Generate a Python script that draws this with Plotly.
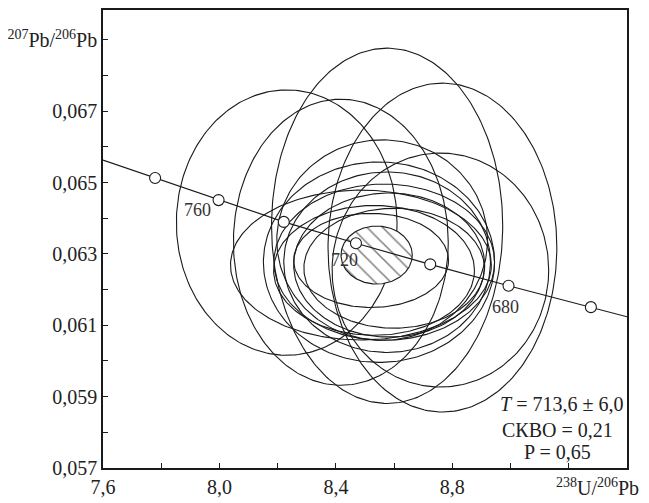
import numpy as np
import plotly.graph_objects as go

# --- data ---
# concordia marker ages (Ma) and their coordinates
conc_age = [780, 760, 740, 720, 700, 680, 660]
conc_x = [7.779, 7.997, 8.221, 8.469, 8.724, 8.993, 9.276]
conc_y = [0.06513, 0.06451, 0.06390, 0.06330, 0.06271, 0.06211, 0.06151]
# concordia curve trace (ends at the frame)
curve_x = [7.6, 7.779, 7.997, 8.221, 8.469, 8.724, 8.993, 9.276, 9.4]
curve_y = [0.06563, 0.06513, 0.06451, 0.06390, 0.06330, 0.06271, 0.06211, 0.06151, 0.06124]
# labelled ages
label_age = ["760", "720", "680"]
label_x = [7.924, 8.431, 8.983]
label_y = [0.06423, 0.06284, 0.06152]

# error ellipses: centres and semi-axes
ell_cx = [8.576, 8.231, 8.417, 8.766, 8.759, 8.486, 8.566, 8.583, 8.600, 8.576, 8.548, 8.559, 8.531, 8.521]
ell_cy = [0.06379, 0.06388, 0.06333, 0.06318, 0.06255, 0.06269, 0.06277, 0.06269, 0.06260, 0.06277, 0.06277, 0.06339, 0.06254, 0.06282]
ell_ax = [0.397, 0.379, 0.369, 0.393, 0.372, 0.448, 0.379, 0.328, 0.310, 0.355, 0.397, 0.362, 0.345, 0.266]
ell_ay = [0.00498, 0.00372, 0.00401, 0.00461, 0.00328, 0.00210, 0.00219, 0.00202, 0.00168, 0.00253, 0.00281, 0.00281, 0.00182, 0.00132]

# concordia age ellipse (hatched)
age_cx, age_cy, age_ax, age_ay = 8.540, 0.06297, 0.1224, 0.000813

# axis ticks
x_tickvals = [7.6, 8.0, 8.4, 8.8]
x_ticktext = ["7,6", "8,0", "8,4", "8,8"]
x_minorvals = [7.8, 8.2, 8.6, 9.0, 9.2]
y_tickvals = [0.057, 0.059, 0.061, 0.063, 0.065, 0.067, 0.069]
y_ticktext = ["0,057", "0,059", "0,061", "0,063", "0,065", "0,067",
              "<sup>207</sup>Pb/<sup>206</sup>Pb"]
y_minorvals = [0.058, 0.060, 0.062, 0.064, 0.066, 0.068]

stats_lines = ["<i>T</i> = 713,6 ± 6,0", "СКВО = 0,21", "P = 0,65"]

FONT = "Liberation Serif, Times New Roman, serif"
INK = "#1a1a1a"

fig = go.Figure()
theta = np.linspace(0, 2 * np.pi, 241)

for cx, cy, ax, ay in zip(ell_cx, ell_cy, ell_ax, ell_ay):
    fig.add_trace(go.Scatter(
        x=cx + ax * np.cos(theta), y=cy + ay * np.sin(theta),
        mode="lines", line=dict(color=INK, width=1.1),
        hoverinfo="skip", showlegend=False))

fig.add_trace(go.Scatter(
    x=age_cx + age_ax * np.cos(theta), y=age_cy + age_ay * np.sin(theta),
    mode="lines", fill="toself", fillcolor="white",
    fillpattern=dict(shape="\\", fgcolor="#000", bgcolor="white", size=11, solidity=0.14),
    line=dict(color=INK, width=1.1), hoverinfo="skip", showlegend=False))

fig.add_trace(go.Scatter(
    x=curve_x, y=curve_y, mode="lines",
    line=dict(color=INK, width=1.2), hoverinfo="skip", showlegend=False))

fig.add_trace(go.Scatter(
    x=conc_x, y=conc_y, mode="markers", text=[str(a) for a in conc_age],
    marker=dict(size=11, color="white", line=dict(color=INK, width=1.1)),
    hoverinfo="text", showlegend=False))

for t, x, y in zip(label_age, label_x, label_y):
    fig.add_annotation(x=x, y=y, text=t, showarrow=False, xref="x", yref="y",
                       font=dict(family=FONT, size=18, color="#333"))

# paper coordinates of the statistics block (lower right inside the frame)
stat_px_x = [0.875, 0.868, 0.867]
stat_px_y = [0.140, 0.082, 0.036]
for t, x, y in zip(stats_lines, stat_px_x, stat_px_y):
    fig.add_annotation(x=x, y=y, text=t, showarrow=False, xref="paper", yref="paper",
                       xanchor="center", yanchor="middle",
                       font=dict(family=FONT, size=20, color="#222"))

fig.add_annotation(x=0.943, y=-0.012, text="<sup>238</sup>U/<sup>206</sup>Pb", showarrow=False,
                   xref="paper", yref="paper", xanchor="center", yanchor="top",
                   font=dict(family=FONT, size=20, color="#222"))

axis_common = dict(showgrid=False, zeroline=False, showline=True, mirror=True,
                   linecolor=INK, linewidth=1.6, ticks="inside", ticklen=5,
                   tickwidth=1.2, tickcolor=INK, automargin=False,
                   tickfont=dict(family=FONT, size=20, color="#222"))

fig.update_xaxes(range=[7.6, 9.4], tickmode="array", tickvals=x_tickvals,
                 ticktext=x_ticktext,
                 minor=dict(tickmode="array", tickvals=x_minorvals, ticks="inside",
                            ticklen=5, tickwidth=1.2, tickcolor=INK),
                 **axis_common)
fig.update_yaxes(range=[0.057, 0.06984], tickmode="array", tickvals=y_tickvals,
                 ticktext=y_ticktext,
                 minor=dict(tickmode="array", tickvals=y_minorvals, ticks="inside",
                            ticklen=5, tickwidth=1.2, tickcolor=INK),
                 **axis_common)

# page body adds an 8 px offset, so the figure is sized to fit inside the window
fig.update_layout(width=641, height=495, margin=dict(l=95, r=22, t=2, b=35),
                  paper_bgcolor="white", plot_bgcolor="white",
                  font=dict(family=FONT, color="#222"), showlegend=False)

fig.write_html("out.html")
